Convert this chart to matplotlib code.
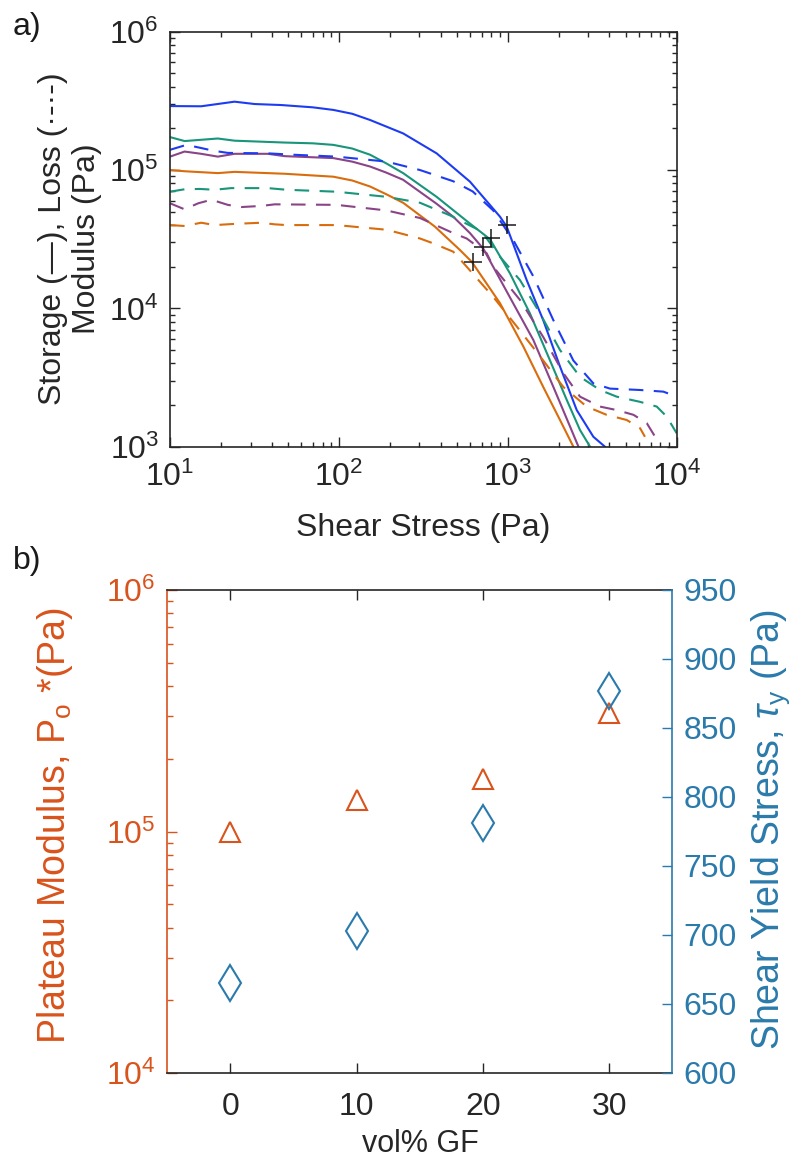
import numpy as np
import matplotlib
matplotlib.use("Agg")
import matplotlib.pyplot as plt
from matplotlib.ticker import LogLocator, FixedLocator, NullFormatter, FuncFormatter

plt.rcParams['font.family'] = ['Liberation Sans', 'DejaVu Sans']
plt.rcParams['mathtext.fontset'] = 'custom'
plt.rcParams['mathtext.rm'] = 'Liberation Sans'
plt.rcParams['mathtext.it'] = 'Liberation Sans:italic'
plt.rcParams['mathtext.bf'] = 'Liberation Sans:bold'

# ---------------- (a) stress sweeps: storage (solid) and loss (dashed) moduli
g30_store_x = [10, 15.3, 24.1, 31.7, 45.6, 70, 92.7, 120, 153, 240, 379, 597, 899, 985, 1294, 1622, 2037, 2559, 3210, 3760]
g30_store_y = [2.9e5, 2.89e5, 3.12e5, 3.0e5, 2.95e5, 2.84e5, 2.72e5, 2.55e5, 2.3e5, 1.84e5, 1.32e5, 8.24e4, 4.6e4, 3.9e4, 1.6e4, 8.2e3, 3.8e3, 1.84e3, 1.18e3, 1.0e3]
g30_loss_x = [10, 12.5, 15, 18, 22, 38, 53.7, 97, 192, 302, 475, 620, 820, 1080, 1417, 1862, 2443, 3209, 4027, 6063, 8340, 10000]
g30_loss_y = [1.40e5, 1.52e5, 1.45e5, 1.38e5, 1.33e5, 1.32e5, 1.29e5, 1.25e5, 1.15e5, 1.0e5, 8.3e4, 7.0e4, 5.1e4, 3.1e4, 1.7e4, 8.2e3, 4.2e3, 2.87e3, 2.63e3, 2.57e3, 2.5e3, 2.3e3]

g20_store_x = [10, 12.2, 19.2, 24.1, 47.7, 70, 92.7, 120, 153, 190, 240, 379, 597, 785, 1030, 1352, 1778, 2233, 2676, 3069]
g20_store_y = [1.73e5, 1.62e5, 1.69e5, 1.63e5, 1.58e5, 1.56e5, 1.52e5, 1.43e5, 1.29e5, 1.12e5, 9.5e4, 6.4e4, 4.1e4, 3.16e4, 1.79e4, 9.2e3, 4.2e3, 2.18e3, 1.32e3, 1.0e3]
g20_loss_x = [10, 12.2, 15, 18.4, 23, 27.7, 38, 49, 97, 192, 302, 455, 700, 899, 1181, 1552, 2037, 2676, 3515, 4413, 6063, 7620, 8730, 10000]
g20_loss_y = [6.97e4, 7.26e4, 7.3e4, 7.2e4, 7.4e4, 7.4e4, 7.4e4, 7.2e4, 6.97e4, 6.4e4, 5.8e4, 4.7e4, 3.6e4, 2.36e4, 1.6e4, 9.2e3, 5.0e3, 3.2e3, 2.57e3, 2.3e3, 2.11e3, 1.95e3, 1.65e3, 1.25e3]

g10_store_x = [10, 12.2, 15.3, 19.2, 24.1, 38, 47.7, 92.7, 120, 153, 190, 240, 379, 475, 597, 716, 1030, 1417, 1862, 2335, 2620]
g10_store_y = [1.25e5, 1.36e5, 1.31e5, 1.25e5, 1.31e5, 1.31e5, 1.26e5, 1.22e5, 1.15e5, 1.06e5, 9.6e4, 8.5e4, 5.7e4, 4.6e4, 3.5e4, 2.7e4, 1.2e4, 5.9e3, 2.7e3, 1.4e3, 1.0e3]
g10_loss_x = [10, 12.2, 14.7, 17.6, 22, 26.4, 34.7, 41.7, 97, 192, 302, 475, 571, 750, 820, 1181, 1622, 2133, 2676, 3515, 4413, 5546, 6650, 7450]
g10_loss_y = [5.75e4, 5.2e4, 5.75e4, 6.1e4, 5.6e4, 5.4e4, 5.5e4, 5.65e4, 5.6e4, 5.1e4, 4.5e4, 3.5e4, 3.2e4, 2.5e4, 2.0e4, 1.15e4, 6.2e3, 3.4e3, 2.3e3, 1.95e3, 1.84e3, 1.7e3, 1.48e3, 1.18e3]

g0_store_x = [10, 12.2, 19.2, 24.1, 47.7, 92.7, 120, 153, 190, 240, 370, 521, 612, 899, 1236, 1622, 2037, 2445]
g0_store_y = [1.0e5, 9.8e4, 9.5e4, 9.7e4, 9.4e4, 8.95e4, 8.4e4, 7.6e4, 6.7e4, 5.8e4, 3.9e4, 2.64e4, 2.17e4, 1.09e4, 5.3e3, 2.7e3, 1.56e3, 1.0e3]
g0_loss_x = [10, 12.2, 15.3, 18.4, 24.1, 34.7, 41.7, 49, 97, 192, 302, 362, 475, 571, 820, 1130, 1552, 2133, 2931, 3846, 5058, 6070, 6486]
g0_loss_y = [4.0e4, 3.94e4, 4.16e4, 4.0e4, 4.08e4, 4.16e4, 4.05e4, 4.0e4, 4.0e4, 3.7e4, 3.2e4, 2.95e4, 2.57e4, 2.0e4, 1.21e4, 7.4e3, 4.5e3, 2.7e3, 1.95e3, 1.7e3, 1.56e3, 1.36e3, 1.18e3]

# yield points marked on the storage curves (0, 10, 20, 30 vol%)
yield_mark_x = [620, 712, 798, 995]
yield_mark_y = [2.17e4, 2.8e4, 3.2e4, 3.99e4]

# ---------------- (b) plateau modulus and yield stress vs filler loading
vol_gf = [0, 10, 20, 30]
plateau_modulus = [1.0e5, 1.35e5, 1.65e5, 3.1e5]
yield_stress = [665, 703, 781, 877]

C_BLUE = '#1d3cf2'
C_GREEN = '#18957a'
C_PURPLE = '#8a4488'
C_ORANGE = '#d96c0c'
C_LEFT = '#d9531c'
C_RIGHT = '#2a7aab'
C_AX = '#262626'

W, H = 804, 1169
FS_TICK = 23
FS_LAB = 23
FS_LAB_B = 27
FS_X_B = 22


def rect(l, t, r, b):
    return [l / W, 1 - b / H, (r - l) / W, (b - t) / H]


def pow10(v, pos):
    return r'$10^{%d}$' % int(round(np.log10(v)))


fig = plt.figure(figsize=(W / 100, H / 100), dpi=100)

# ---------------- panel (a)
ax1 = fig.add_axes(rect(170, 31.7, 676.7, 446.7))
ax1.set_xscale('log')
ax1.set_yscale('log')

curves = [
    (g0_store_x, g0_store_y, C_ORANGE, '-'),
    (g10_store_x, g10_store_y, C_PURPLE, '-'),
    (g20_store_x, g20_store_y, C_GREEN, '-'),
    (g30_store_x, g30_store_y, C_BLUE, '-'),
    (g0_loss_x, g0_loss_y, C_ORANGE, '--'),
    (g10_loss_x, g10_loss_y, C_PURPLE, '--'),
    (g20_loss_x, g20_loss_y, C_GREEN, '--'),
    (g30_loss_x, g30_loss_y, C_BLUE, '--'),
]
for xs, ys, c, ls in curves:
    ln, = ax1.plot(xs, ys, color=c, lw=1.5, ls=ls, solid_joinstyle='round')
    if ls == '--':
        ln.set_dashes((7, 5))
ax1.plot(yield_mark_x, yield_mark_y, '+', color='#1a1a1a', ms=13, mew=1.1, ls='none')

ax1.set_xlim(10, 1e4)
ax1.set_ylim(1e3, 1e6)
ax1.xaxis.set_major_locator(LogLocator(base=10, numticks=10))
ax1.yaxis.set_major_locator(LogLocator(base=10, numticks=10))
ax1.xaxis.set_minor_locator(LogLocator(base=10, subs=np.arange(2, 10), numticks=20))
ax1.yaxis.set_minor_locator(LogLocator(base=10, subs=np.arange(2, 10), numticks=20))
ax1.xaxis.set_major_formatter(FuncFormatter(pow10))
ax1.yaxis.set_major_formatter(FuncFormatter(pow10))
ax1.xaxis.set_minor_formatter(NullFormatter())
ax1.yaxis.set_minor_formatter(NullFormatter())
ax1.tick_params(which='both', direction='in', top=True, right=True, colors=C_AX,
                labelsize=FS_TICK, width=1.0)
ax1.tick_params(which='major', length=7)
ax1.tick_params(axis='x', which='major', pad=11)
ax1.tick_params(axis='y', which='major', pad=8)
ax1.tick_params(which='minor', length=3.5)
for s in ax1.spines.values():
    s.set_color(C_AX)
    s.set_linewidth(1.2)

fig.text(70 / W, 1 - 239 / H, 'Storage (—), Loss (·-·-)\nModulus (Pa)', rotation=90,
         ha='center', va='center', fontsize=FS_LAB, color=C_AX, linespacing=1.2)
fig.text(423 / W, 1 - 528 / H, 'Shear Stress (Pa)', ha='center', va='center',
         fontsize=FS_LAB, color=C_AX)
fig.text(13 / W, 1 - 27 / H, 'a)', ha='left', va='center', fontsize=FS_LAB, color='#1a1a1a')

# ---------------- panel (b)
ax2 = fig.add_axes(rect(167, 590, 672.5, 1073))
ax2.set_yscale('log')
ax2.plot(vol_gf, plateau_modulus, '^', mfc='none', mec=C_LEFT, ms=15, mew=1.5, ls='none')
ax2.set_xlim(-5, 35)
ax2.set_ylim(1e4, 1e6)
ax2.set_xticks(vol_gf)
ax2.yaxis.set_major_locator(LogLocator(base=10, numticks=10))
ax2.yaxis.set_minor_locator(LogLocator(base=10, subs=np.arange(2, 10), numticks=20))
ax2.yaxis.set_major_formatter(FuncFormatter(pow10))
ax2.yaxis.set_minor_formatter(NullFormatter())
ax2.tick_params(axis='x', which='both', direction='in', top=True, bottom=True,
                colors=C_AX, labelsize=FS_TICK, length=7, width=1.0, pad=14)
ax2.tick_params(axis='y', which='both', direction='in', left=True, right=False,
                colors=C_LEFT, labelsize=FS_TICK, width=1.0)
ax2.tick_params(axis='y', which='major', length=7, pad=8)
ax2.tick_params(axis='y', which='minor', length=4)

ax3 = ax2.twinx()
ax3.plot(vol_gf, yield_stress, 'd', mfc='none', mec=C_RIGHT, ms=18, mew=1.5, ls='none')
ax3.set_ylim(600, 950)
ax3.yaxis.set_major_locator(FixedLocator(np.arange(600, 951, 50)))
ax3.tick_params(axis='y', which='both', direction='in', colors=C_RIGHT,
                labelsize=FS_TICK, length=7, width=1.0, pad=8)

for s in ('top', 'bottom'):
    ax2.spines[s].set_color(C_AX)
    ax2.spines[s].set_linewidth(1.2)
    ax3.spines[s].set_visible(False)
ax2.spines['left'].set_color(C_LEFT)
ax2.spines['left'].set_linewidth(1.2)
ax2.spines['right'].set_visible(False)
ax3.spines['left'].set_visible(False)
ax3.spines['right'].set_color(C_RIGHT)
ax3.spines['right'].set_linewidth(1.2)

fig.text(55 / W, 1 - 826 / H, r'Plateau Modulus, P$_\mathrm{o}$ *(Pa)', rotation=90,
         ha='center', va='center', fontsize=FS_LAB_B, color=C_LEFT)
fig.text(771 / W, 1 - 830 / H, r'Shear Yield Stress, $\tau_\mathrm{y}$ (Pa)', rotation=90,
         ha='center', va='center', fontsize=FS_LAB_B, color=C_RIGHT)
fig.text(420 / W, 1 - 1144 / H, 'vol% GF', ha='center', va='center',
         fontsize=FS_X_B, color=C_AX)
fig.text(13 / W, 1 - 561 / H, 'b)', ha='left', va='center', fontsize=FS_LAB, color='#1a1a1a')

fig.savefig('out.png', dpi=100, facecolor='white')
